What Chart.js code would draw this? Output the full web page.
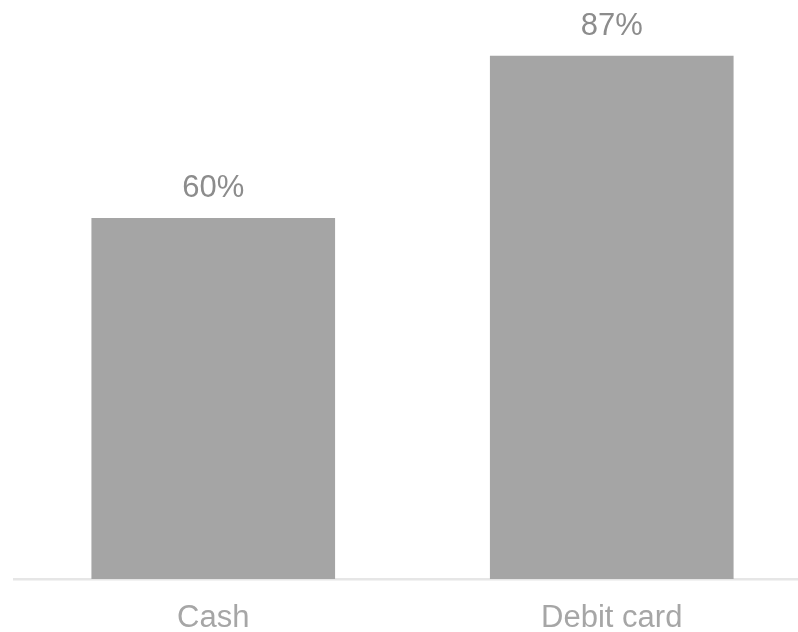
<!DOCTYPE html>
<html>
<head>
<meta charset="utf-8">
<script src="https://cdn.jsdelivr.net/npm/chart.js@4"></script>
<style>
  html, body { margin: 0; padding: 0; background: #fff; overflow: hidden; }
  #wrap { width: 798px; height: 632px; overflow: hidden; }
</style>
</head>
<body>
<div id="wrap"><canvas id="chart" width="811" height="632"></canvas></div>
<script>
const categories = ['Cash', 'Debit card'];
const shares = [60, 87];

// value labels above each bar
const valueLabels = {
  id: 'valueLabels',
  afterDatasetsDraw(chart) {
    const ctx = chart.ctx;
    const meta = chart.getDatasetMeta(0);
    ctx.save();
    ctx.font = '31px "Liberation Sans", Arial, sans-serif';
    ctx.fillStyle = '#8c8c8c';
    ctx.textAlign = 'center';
    ctx.textBaseline = 'alphabetic';
    meta.data.forEach((bar, i) => {
      ctx.fillText(shares[i] + '%', bar.x, bar.y - 21);
    });
    ctx.restore();
  }
};

new Chart(document.getElementById('chart'), {
  type: 'bar',
  data: {
    labels: categories,
    datasets: [{
      data: shares,
      backgroundColor: '#a5a5a5',
      borderWidth: 0,
      barThickness: 243
    }]
  },
  options: {
    responsive: false,
    animation: false,
    layout: { padding: { left: 14, top: 38, right: 0, bottom: 0 } },
    plugins: { legend: { display: false }, tooltip: { enabled: false } },
    scales: {
      x: {
        grid: { display: false, drawTicks: false },
        border: { display: true, color: '#e6e6e6', width: 2.5 },
        ticks: {
          color: '#a6a6a6',
          padding: 21,
          font: { family: '"Liberation Sans", Arial, sans-serif', size: 31 }
        },
        afterFit(scale) { scale.height = 53; }
      },
      y: {
        display: false,
        min: 0,
        max: 90
      }
    }
  },
  plugins: [valueLabels]
});
</script>
</body>
</html>
